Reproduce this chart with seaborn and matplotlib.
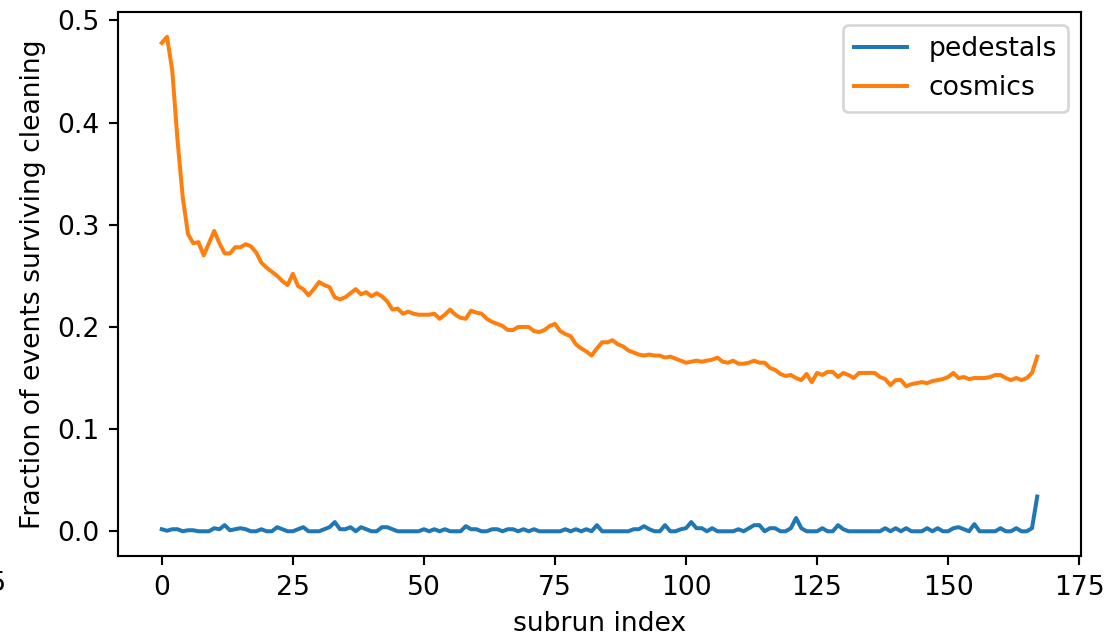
import numpy as np
import pandas as pd
import matplotlib
matplotlib.use("Agg")
import matplotlib.pyplot as plt
import seaborn as sns

subrun = list(range(168))

cosmics = [
    0.478, 0.484, 0.451, 0.383, 0.327, 0.291, 0.282, 0.283, 0.270, 0.282,
    0.294, 0.282, 0.272, 0.272, 0.278, 0.278, 0.281, 0.279, 0.273, 0.263,
    0.258, 0.254, 0.250, 0.245, 0.241, 0.252, 0.240, 0.237, 0.231, 0.237,
    0.244, 0.241, 0.239, 0.229, 0.227, 0.229, 0.233, 0.237, 0.232, 0.234,
    0.230, 0.233, 0.230, 0.225, 0.217, 0.218, 0.213, 0.215, 0.213, 0.212,
    0.212, 0.212, 0.213, 0.208, 0.212, 0.217, 0.212, 0.209, 0.208, 0.216,
    0.214, 0.213, 0.208, 0.205, 0.203, 0.201, 0.197, 0.197, 0.200, 0.200,
    0.200, 0.196, 0.195, 0.197, 0.201, 0.203, 0.196, 0.193, 0.191, 0.183,
    0.179, 0.176, 0.172, 0.179, 0.185, 0.185, 0.187, 0.183, 0.181, 0.177,
    0.175, 0.173, 0.172, 0.173, 0.172, 0.172, 0.170, 0.171, 0.169, 0.167,
    0.165, 0.166, 0.167, 0.166, 0.167, 0.168, 0.170, 0.166, 0.165, 0.167,
    0.164, 0.164, 0.165, 0.167, 0.165, 0.165, 0.160, 0.158, 0.154, 0.152,
    0.153, 0.150, 0.148, 0.154, 0.146, 0.155, 0.153, 0.156, 0.156, 0.151,
    0.155, 0.153, 0.150, 0.155, 0.155, 0.155, 0.155, 0.151, 0.149, 0.143,
    0.148, 0.148, 0.142, 0.144, 0.145, 0.146, 0.145, 0.147, 0.148, 0.149,
    0.151, 0.155, 0.150, 0.151, 0.149, 0.150, 0.150, 0.150, 0.151, 0.153,
    0.153, 0.150, 0.148, 0.150, 0.148, 0.150, 0.155, 0.171,
]

pedestals = [
    0.002, 0.0005, 0.002, 0.002, 0.0, 0.001, 0.001, 0.0, 0.0, 0.0,
    0.003, 0.002, 0.006, 0.001, 0.002, 0.003, 0.002, 0.0, 0.0, 0.002,
    0.0, 0.0, 0.004, 0.002, 0.0, 0.0, 0.002, 0.004, 0.0, 0.0,
    0.0, 0.002, 0.004, 0.009, 0.002, 0.002, 0.004, 0.0, 0.004, 0.002,
    0.0, 0.0, 0.004, 0.004, 0.002, 0.0, 0.0, 0.0, 0.0, 0.0,
    0.002, 0.0, 0.002, 0.0, 0.002, 0.0, 0.0, 0.0, 0.005, 0.002,
    0.002, 0.0, 0.0, 0.002, 0.002, 0.0, 0.002, 0.002, 0.0, 0.002,
    0.0, 0.002, 0.0, 0.0, 0.0, 0.0, 0.0, 0.002, 0.0, 0.002,
    0.0, 0.002, 0.0, 0.006, 0.0, 0.0, 0.0, 0.0, 0.0, 0.0,
    0.002, 0.002, 0.005, 0.002, 0.0, 0.0, 0.006, 0.0, 0.0, 0.002,
    0.003, 0.009, 0.003, 0.003, 0.0, 0.003, 0.0, 0.0, 0.0, 0.0,
    0.002, 0.0, 0.003, 0.006, 0.006, 0.0, 0.003, 0.003, 0.0, 0.0,
    0.003, 0.013, 0.003, 0.0, 0.0, 0.0, 0.003, 0.0, 0.0, 0.006,
    0.002, 0.0, 0.0, 0.0, 0.0, 0.0, 0.0, 0.0, 0.003, 0.0,
    0.003, 0.0, 0.003, 0.0, 0.0, 0.0, 0.003, 0.0, 0.003, 0.0,
    0.0, 0.003, 0.004, 0.002, 0.0, 0.007, 0.0, 0.0, 0.0, 0.0,
    0.003, 0.0, 0.0, 0.003, 0.0, 0.0, 0.003, 0.034,
]

series_names = ["pedestals", "cosmics"]

df = pd.concat([
    pd.DataFrame({"subrun index": subrun, "fraction": pedestals, "series": series_names[0]}),
    pd.DataFrame({"subrun index": subrun, "fraction": cosmics, "series": series_names[1]}),
])

DPI = 192
fig = plt.figure(figsize=(1109 / DPI, 639 / DPI), dpi=DPI)
ax = fig.add_axes([118 / 1109, 1 - 556 / 639, (1081 - 118) / 1109, (556 - 12) / 639])

sns.lineplot(data=df, x="subrun index", y="fraction", hue="series",
             palette=["#1f77b4", "#ff7f0e"], hue_order=series_names,
             linewidth=1.5, ax=ax)

ax.set_xlabel("subrun index")
ax.set_ylabel("Fraction of events surviving cleaning")
ax.set_xticks([0, 25, 50, 75, 100, 125, 150, 175])
ax.set_yticks([0.0, 0.1, 0.2, 0.3, 0.4, 0.5])
ax.set_xlim(-8.35, 175.35)
ax.set_ylim(-0.0242, 0.5083)
handles, labels = ax.get_legend_handles_labels()
ax.legend(handles, labels, loc="upper right")

fig.text(6 / 1109, 1 - 584 / 639, "\u221225", ha="right", va="center", fontsize=10)

fig.savefig("out.png", dpi=DPI)
